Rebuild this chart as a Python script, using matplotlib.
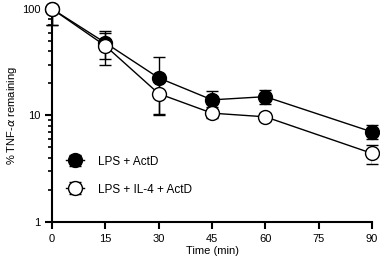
import matplotlib
matplotlib.use("Agg")
import matplotlib.pyplot as plt
import numpy as np

plt.rcParams['font.family'] = ['Liberation Sans', 'DejaVu Sans']

time_min = [0, 15, 30, 45, 60, 90]

# LPS + ActD (filled)
actd = [100, 48, 22.5, 14, 15, 7.0]
actd_lo = [30, 14, 12.5, 2.0, 2.2, 1.0]
actd_hi = [0, 14, 12.5, 3.0, 2.3, 1.2]

# LPS + IL-4 + ActD (open)
il4 = [100, 45, 16, 10.5, 9.7, 4.4]
il4_lo = [30, 15, 5.7, 1.0, 0.8, 0.9]
il4_hi = [0, 15, 5.0, 1.0, 0.8, 0.9]

xticks = [0, 15, 30, 45, 60, 75, 90]

fig = plt.figure(figsize=(3.8, 2.62), dpi=100)
ax = fig.add_axes([0.137, 0.153, 0.842, 0.813])

ax.errorbar(time_min, actd, yerr=[actd_lo, actd_hi], color='black', marker='o',
            markersize=10, markerfacecolor='black', markeredgecolor='black',
            linewidth=1.0, elinewidth=1.0, capsize=4, capthick=1.0,
            label='LPS + ActD', zorder=3)
ax.errorbar(time_min, il4, yerr=[il4_lo, il4_hi], color='black', marker='o',
            markersize=10, markerfacecolor='white', markeredgecolor='black',
            linewidth=1.0, elinewidth=1.0, capsize=4, capthick=1.0,
            label='LPS + IL-4 + ActD', zorder=3)

for ln in ax.lines:
    ln.set_clip_on(False)

ax.set_yscale('log')
ax.set_ylim(1, 100)
ax.set_xlim(0, 90)
ax.set_xticks(xticks)
ax.set_yticks([1, 10, 100])
ax.set_yticklabels(['1', '10', '100'])

for s in ['top', 'right']:
    ax.spines[s].set_visible(False)
for s in ['left', 'bottom']:
    ax.spines[s].set_linewidth(1.5)

ax.tick_params(axis='both', which='major', direction='out', length=5, width=1.5,
               labelsize=8)
ax.tick_params(axis='y', which='minor', direction='out', length=3, width=1.2)
ax.tick_params(axis='y', which='minor', labelleft=False)

ax.set_xlabel('Time (min)', fontsize=8, labelpad=2)
ax.set_ylabel(r'% TNF-$\alpha$ remaining', fontsize=8, labelpad=2)

leg = ax.legend(loc='lower left', bbox_to_anchor=(0.01, 0.074), frameon=False,
                fontsize=8.5, handlelength=1.5, labelspacing=1.35, handletextpad=1.2)

fig.savefig('out.png', dpi=100)
